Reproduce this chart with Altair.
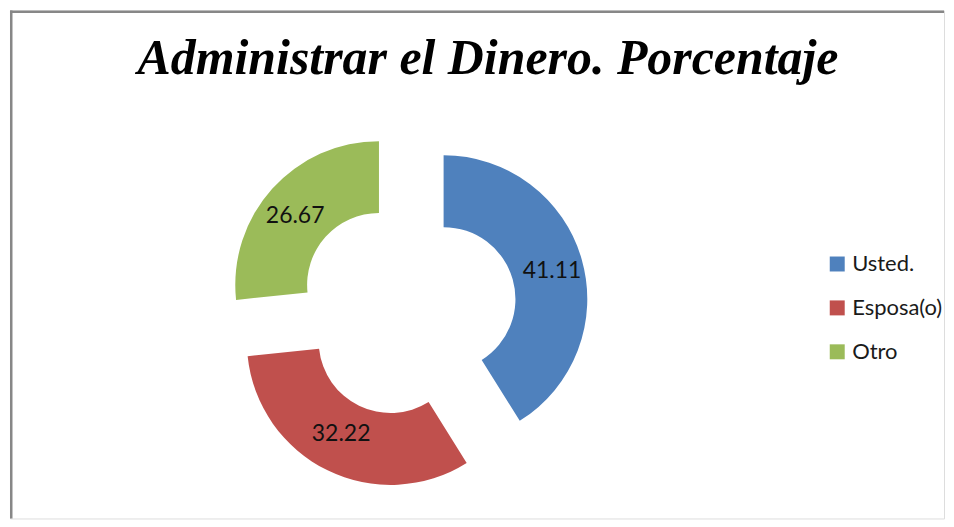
import altair as alt
import pandas as pd

# ---- data ----
categories = ["Usted.", "Esposa(o)", "Otro"]
values = [41.11, 32.22, 26.67]
labels = ["41.11", "32.22", "26.67"]
colors = ["#4F81BD", "#C0504D", "#9BBB59"]
order = [0, 1, 2]
title_text = "Administrar el Dinero. Porcentaje"

df = pd.DataFrame({"cat": categories, "val": values, "label": labels, "order": order})

# ---- layout constants ----
W, H = 936, 509
CX, CY = 398, 299
EXP_X, EXP_Y = 38, 36
R_OUT, R_IN = 144, 72
RLX, RLY = 113, 103

base = (
    alt.Chart(df)
    .transform_window(cum="sum(val)", sort=[alt.SortField("order")], frame=[None, 0])
    .transform_joinaggregate(total="sum(val)")
    .transform_calculate(
        t1="2*PI*(datum.cum - datum.val)/datum.total",
        t2="2*PI*datum.cum/datum.total",
    )
    .transform_calculate(mid="(datum.t1 + datum.t2)/2")
    .transform_calculate(
        cx=f"{CX} + {EXP_X}*sin(datum.mid)",
        cy=f"{CY} - {EXP_Y}*cos(datum.mid)",
        lx=f"{CX} + {EXP_X + RLX}*sin(datum.mid)",
        ly=f"{CY} - {EXP_Y + RLY}*cos(datum.mid)",
    )
)

arcs = base.mark_arc(radius=R_OUT, radius2=R_IN).encode(
    theta=alt.Theta("t1:Q", scale=None, stack=None),
    theta2="t2:Q",
    x=alt.X("cx:Q", scale=None, axis=None),
    y=alt.Y("cy:Q", scale=None, axis=None),
    color=alt.Color(
        "cat:N",
        scale=alt.Scale(domain=categories, range=colors),
        legend=alt.Legend(
            title=None,
            orient="none",
            legendX=818,
            legendY=243,
            symbolType="square",
            symbolSize=225,
            symbolStrokeWidth=0,
            labelFont="Lato",
            labelFontSize=22,
            labelColor="#1a1a1a",
            labelOffset=4,
            rowPadding=22,
            padding=0,
        ),
    ),
)

texts = base.mark_text(font="Lato", fontSize=23, color="#111111").encode(
    x=alt.X("lx:Q", scale=None, axis=None),
    y=alt.Y("ly:Q", scale=None, axis=None),
    text="label:N",
)

title = alt.Chart(pd.DataFrame({"t": [title_text]})).mark_text(
    font="Liberation Serif",
    fontSize=50,
    fontStyle="italic",
    fontWeight="bold",
    color="#000000",
    baseline="alphabetic",
).encode(x=alt.value(479), y=alt.value(64), text="t:N")

frame_df = pd.DataFrame({"k": [0]})
top_rule = alt.Chart(frame_df).mark_rule(color="#878787", strokeWidth=2.5).encode(
    x=alt.value(0), x2=alt.value(W), y=alt.value(1.25)
)
left_rule = alt.Chart(frame_df).mark_rule(color="#878787", strokeWidth=2.5).encode(
    x=alt.value(1.25), y=alt.value(0), y2=alt.value(H)
)

chart = (
    alt.layer(top_rule, left_rule, arcs, texts, title)
    .properties(width=W, height=H, padding=0)
    .configure_view(stroke="transparent", strokeWidth=0)
    .configure(background="white")
)

chart.save("out.html", embed_options={"renderer": "svg", "actions": False})
